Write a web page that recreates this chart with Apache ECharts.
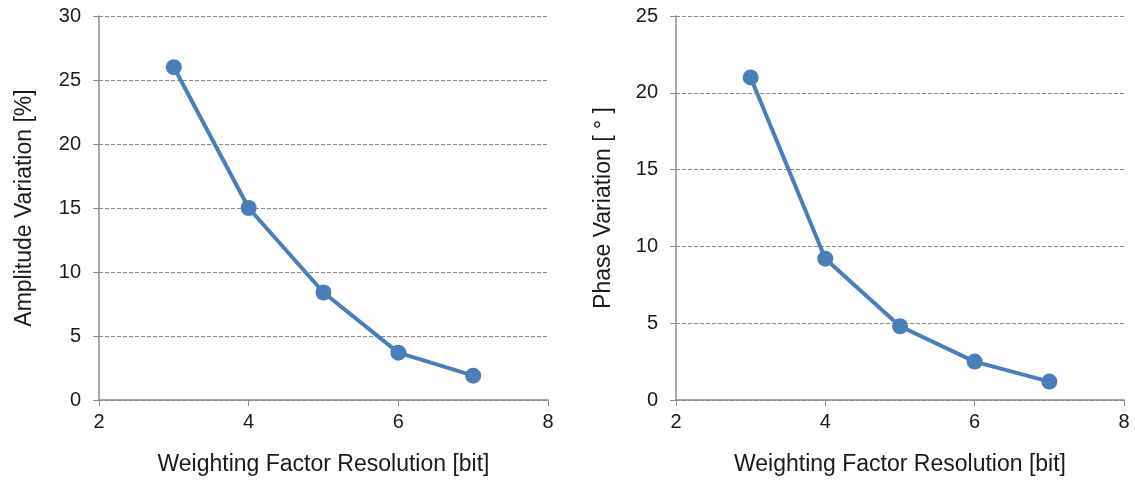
<!DOCTYPE html>
<html><head><meta charset="utf-8">
<script src="https://cdn.jsdelivr.net/npm/echarts@6/dist/echarts.min.js"></script>
<style>html,body{margin:0;padding:0;background:#fff}#c{width:1135px;height:481px}</style>
</head><body><div id="c"></div>
<script>
const bits = [3, 4, 5, 6, 7];
const amplitudeVariation = [26, 15, 8.4, 3.7, 1.9];
const phaseVariation = [21, 9.2, 4.8, 2.5, 1.2];
const xTitle = 'Weighting Factor Resolution [bit]';
const yTitleLeft = 'Amplitude Variation [%]';
const yTitleRight = 'Phase Variation [ \u00b0 ]';

const font = 'Liberation Sans, Arial, sans-serif';
const axisColor = '#8c8c8c';
function xAxis(gi) {
  return {
    type: 'value', gridIndex: gi, min: 2, max: 8, interval: 2,
    name: xTitle, nameLocation: 'middle', nameGap: 53,
    nameTextStyle: { fontFamily: font, fontSize: 23, color: '#1a1a1a' },
    axisLine: { lineStyle: { color: axisColor, width: 1.5 } },
    axisTick: { show: true, length: 6, lineStyle: { color: axisColor } },
    axisLabel: { fontFamily: font, fontSize: 20, color: '#1a1a1a', margin: 12 },
    splitLine: { show: false }
  };
}
function yAxis(gi, max, name, gap) {
  return {
    type: 'value', gridIndex: gi, min: 0, max: max, interval: 5,
    name: name, nameLocation: 'middle', nameGap: gap,
    nameTextStyle: { fontFamily: font, fontSize: 23, color: '#1a1a1a' },
    axisLine: { show: true, lineStyle: { color: axisColor, width: 1.5 } },
    axisTick: { show: true, length: 6, lineStyle: { color: axisColor } },
    axisLabel: { fontFamily: font, fontSize: 20, color: '#1a1a1a', margin: 18 },
    splitLine: { show: true, lineStyle: { color: '#8a8a8a', type: [4, 2], width: 1 } }
  };
}
function series(gi, vals) {
  return {
    type: 'line', xAxisIndex: gi, yAxisIndex: gi,
    data: bits.map((b, i) => [b, vals[i]]),
    symbol: 'circle', symbolSize: 16,
    lineStyle: { color: '#4a7ebb', width: 4 },
    itemStyle: { color: '#4a7ebb' },
    animation: false
  };
}
const chart = echarts.init(document.getElementById('c'));
chart.setOption({
  animation: false,
  grid: [
    { left: 99, right: 587, top: 16, bottom: 81 },
    { left: 676, right: 11, top: 16, bottom: 81 }
  ],
  xAxis: [xAxis(0), xAxis(1)],
  yAxis: [yAxis(0, 30, yTitleLeft, 63), yAxis(1, 25, yTitleRight, 61)],
  series: [series(0, amplitudeVariation), series(1, phaseVariation)]
});
</script></body></html>
